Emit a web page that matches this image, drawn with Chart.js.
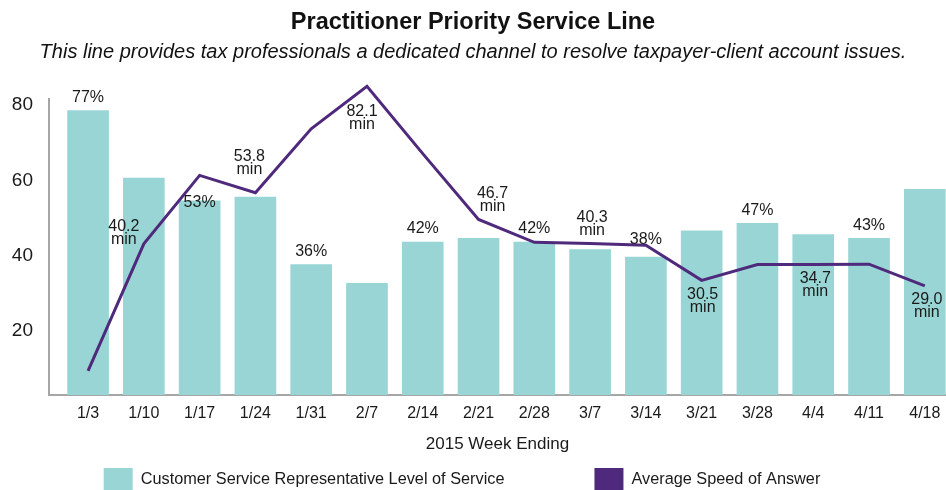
<!DOCTYPE html>
<html lang="en">
<head>
    <meta charset="UTF-8">
    <title>Practitioner Priority Service Line</title>
    <script src="https://cdn.jsdelivr.net/npm/chart.js"></script>
    <style>
        html, body { margin: 0; padding: 0; background: #fff; overflow: hidden; }
        #wrap { width: 946px; height: 490px; }
    </style>
</head>
<body>
<div id="wrap"><canvas id="grafico"></canvas></div>
<script>
    // data
    const weeks = ['1/3', '1/10', '1/17', '1/24', '1/31', '2/7', '2/14', '2/21',
                   '2/28', '3/7', '3/14', '3/21', '3/28', '4/4', '4/11', '4/18'];
    const levelOfService = [77, 59, 53, 54, 36, 31, 42, 43, 42, 40, 38, 45, 47, 44, 43, 56];
    const speedOfAnswer = [6.4, 40.2, 58.4, 53.8, 70.8, 82.1, 64.2, 46.7, 40.6, 40.3, 39.8, 30.5, 34.7, 34.7, 34.8, 29.0];
    const yTicks = [20, 40, 60, 80];

    const FONT = "'Liberation Sans', Arial, sans-serif";
    const TEXT = '#1a1a1a';
    const TEAL = '#99d5d4';
    const PURPLE = '#4f2a7c';

    // small placement tweaks for the value labels (pixels)
    const barLabelNudge = { 2: 15, 10: -5 };
    const lineLabelNudge = {
        1: { dx: -20, dy: 9, below: false },
        3: { dx: -6, dy: -10, below: false },
        5: { dx: -5, dy: 11, below: true },
        7: { dx: 14, dy: 0, below: false },
        9: { dx: 2, dy: 0, below: false },
        11: { dx: 1, dy: 0, below: true },
        13: { dx: 2, dy: 0, below: true },
        15: { dx: 2, dy: 0, below: true }
    };

    const valueLabels = {
        id: 'valueLabels',
        afterDatasetsDraw(chart) {
            const ctx = chart.ctx;
            ctx.save();
            ctx.fillStyle = TEXT;
            ctx.font = '16px ' + FONT;
            ctx.textAlign = 'center';
            ctx.textBaseline = 'middle';

            const bars = chart.getDatasetMeta(0).data;
            bars.forEach((bar, i) => {
                if (i % 2 !== 0) return;
                const dy = barLabelNudge[i] || 0;
                ctx.fillText(levelOfService[i] + '%', bar.x, bar.y - 13 + dy);
            });

            const pts = chart.getDatasetMeta(1).data;
            pts.forEach((pt, i) => {
                const p = lineLabelNudge[i];
                if (!p) return;
                const x = pt.x + p.dx;
                const y1 = p.below ? pt.y + 14 + p.dy : pt.y - 26 + p.dy;
                ctx.fillText(speedOfAnswer[i].toFixed(1), x, y1);
                ctx.fillText('min', x, y1 + 13);
            });
            ctx.restore();
        }
    };

    const bottomLegend = {
        id: 'bottomLegend',
        afterDraw(chart) {
            const ctx = chart.ctx;
            ctx.save();
            ctx.font = '16.3px ' + FONT;
            ctx.textBaseline = 'middle';
            ctx.textAlign = 'left';
            const items = chart.data.datasets.map(ds => ({
                text: ds.label,
                color: ds.type === 'line' ? ds.borderColor : ds.backgroundColor
            }));
            const boxW = 29, boxH = 24, gapText = 8, gapItem = 90;
            let total = 0;
            items.forEach((it, i) => {
                it.w = boxW + gapText + ctx.measureText(it.text).width;
                total += it.w + (i ? gapItem : 0);
            });
            let x = 462 - total / 2;
            const top = 468;
            items.forEach(it => {
                ctx.fillStyle = it.color;
                ctx.fillRect(x, top, boxW, boxH);
                ctx.fillStyle = TEXT;
                ctx.fillText(it.text, x + boxW + gapText, 480);
                x += it.w + gapItem;
            });
            ctx.restore();
        }
    };

    const ctx = document.getElementById('grafico').getContext('2d');
    new Chart(ctx, {
        type: 'bar',
        data: {
            datasets: [{
                type: 'bar',
                label: 'Customer Service Representative Level of Service',
                data: weeks.map((w, i) => ({ x: i, y: levelOfService[i] })),
                yAxisID: 'y',
                backgroundColor: TEAL,
                barThickness: 41,
                order: 1
            }, {
                type: 'line',
                label: 'Average Speed of Answer',
                data: weeks.map((w, i) => ({ x: i, y: speedOfAnswer[i] })),
                yAxisID: 'y2',
                borderColor: PURPLE,
                backgroundColor: PURPLE,
                borderWidth: 3,
                pointRadius: 0,
                tension: 0,
                clip: false,
                order: 0
            }]
        },
        options: {
            responsive: true,
            maintainAspectRatio: false,
            animation: false,
            layout: { autoPadding: false, padding: { left: 0, right: 0, top: 0, bottom: 35 } },
            plugins: {
                legend: { display: false },
                tooltip: { enabled: false },
                title: {
                    display: true,
                    text: 'Practitioner Priority Service Line',
                    color: '#111',
                    font: { family: FONT, size: 23.5, weight: 'bold' },
                    padding: { top: 8, bottom: 4 }
                },
                subtitle: {
                    display: true,
                    text: 'This line provides tax professionals a dedicated channel to resolve taxpayer-client account issues.',
                    color: '#111',
                    font: { family: FONT, size: 20, style: 'italic' },
                    padding: { top: 0, bottom: 35 }
                }
            },
            scales: {
                x: {
                    type: 'linear',
                    min: -0.7,
                    max: 15.38,
                    offset: false,
                    afterBuildTicks: scale => { scale.ticks = weeks.map((w, i) => ({ value: i })); },
                    afterFit: scale => {
                        scale.height = 60;
                        scale.paddingLeft = 0;
                        scale.paddingRight = 0;
                    },
                    grid: { display: false, drawTicks: false },
                    border: { display: true, color: '#a6a6a6', width: 2 },
                    ticks: {
                        autoSkip: false,
                        maxRotation: 0,
                        padding: 9,
                        color: TEXT,
                        font: { family: FONT, size: 16 },
                        callback: v => weeks[v]
                    },
                    title: {
                        display: true,
                        text: '2015 Week Ending',
                        color: TEXT,
                        font: { family: FONT, size: 17 },
                        padding: { top: 3, bottom: 0 }
                    }
                },
                y: {
                    min: 1.33,
                    max: 80,
                    afterBuildTicks: scale => { scale.ticks = yTicks.map(v => ({ value: v })); },
                    afterFit: scale => { scale.width = 49; },
                    grid: { display: false, drawTicks: false },
                    border: { display: true, color: '#a6a6a6', width: 2 },
                    ticks: {
                        padding: 16,
                        labelOffset: 6,
                        color: TEXT,
                        font: { family: FONT, size: 19 }
                    }
                },
                y2: {
                    display: false,
                    min: 0,
                    max: 78.67
                }
            }
        },
        plugins: [valueLabels, bottomLegend]
    });
</script>
</body>
</html>
